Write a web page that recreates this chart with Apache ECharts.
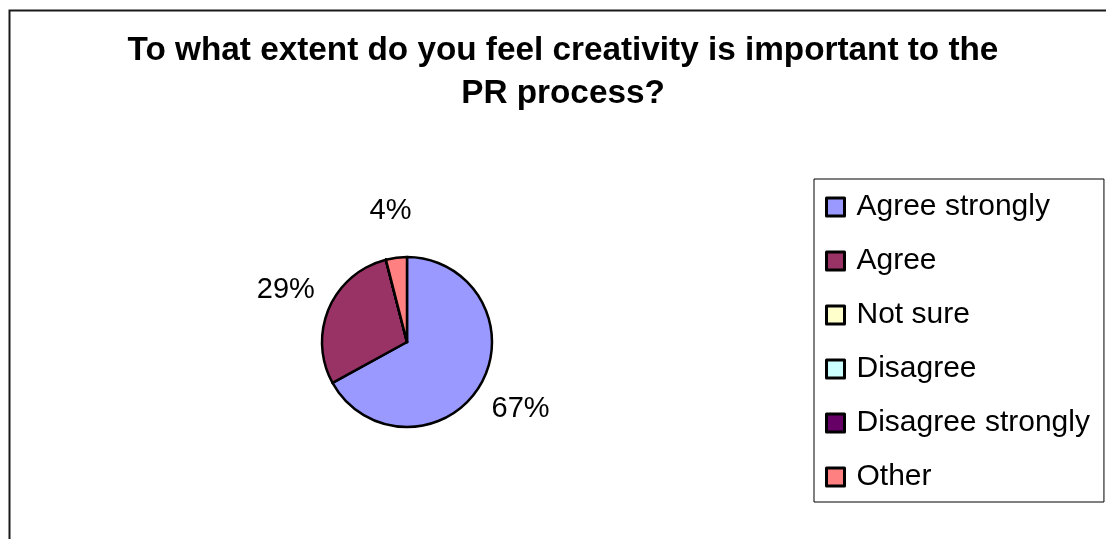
<!DOCTYPE html>
<html>
<head>
<meta charset="utf-8">
<script src="https://cdn.jsdelivr.net/npm/echarts@6/dist/echarts.min.js"></script>
<style>
  html, body { margin: 0; padding: 0; background: #fff; }
  #chart { width: 1106px; height: 539px; }
</style>
</head>
<body>
<div id="chart"></div>
<script>
// Survey answers and their share of respondents (percent)
const categories = ['Agree strongly', 'Agree', 'Not sure', 'Disagree', 'Disagree strongly', 'Other'];
const shares = [67, 29, 0, 0, 0, 4];
const colors = ['#9999FF', '#993366', '#FFFFCC', '#CCFFFF', '#660066', '#FF8080'];
const titleText = 'To what extent do you feel creativity is important to the\nPR process?';

const FONT = '"Liberation Sans", Arial, sans-serif';

const pieData = categories.map((name, i) => {
  const item = { name: name, value: shares[i], itemStyle: { color: colors[i] } };
  if (shares[i] === 0) item.label = { show: false };
  return item;
});

const chart = echarts.init(document.getElementById('chart'), null, { renderer: 'canvas' });

chart.setOption({
  backgroundColor: '#ffffff',
  animation: false,
  graphic: [{
    type: 'rect',
    left: 7, top: 8,
    shape: { width: 1130, height: 560 },
    style: { fill: 'none', stroke: '#1a1a1a', lineWidth: 2 },
    silent: true
  }],
  title: {
    text: titleText,
    left: 563,
    top: 29,
    padding: 0,
    textAlign: 'center',
    textStyle: {
      fontFamily: FONT,
      fontSize: 33.3,
      fontWeight: 'bold',
      lineHeight: 43,
      color: '#000'
    }
  },
  legend: {
    orient: 'vertical',
    left: 814,
    top: 179,
    padding: [13, 14, 10, 11],
    borderColor: '#000',
    borderWidth: 1,
    itemWidth: 18,
    itemHeight: 18,
    itemGap: 24,
    icon: 'rect',
    itemStyle: { borderColor: '#000', borderWidth: 3 },
    selectedMode: false,
    data: categories,
    textStyle: {
      fontFamily: FONT,
      fontSize: 30,
      lineHeight: 30,
      color: '#000',
      padding: [0, 0, 0, 7]
    }
  },
  series: [{
    type: 'pie',
    center: [407, 342],
    radius: 85,
    startAngle: 90,
    clockwise: true,
    avoidLabelOverlap: false,
    itemStyle: { borderColor: '#000', borderWidth: 2.5 },
    label: {
      show: true,
      position: 'outside',
      formatter: '{c}%',
      fontFamily: FONT,
      fontSize: 29,
      color: '#000',
      distanceToLabelLine: 0
    },
    labelLine: { show: false, length: 47, length2: 0 },
    labelLayout: function () {
      return { align: 'center' };
    },
    emphasis: { disabled: true },
    data: pieData
  }]
});
</script>
</body>
</html>
